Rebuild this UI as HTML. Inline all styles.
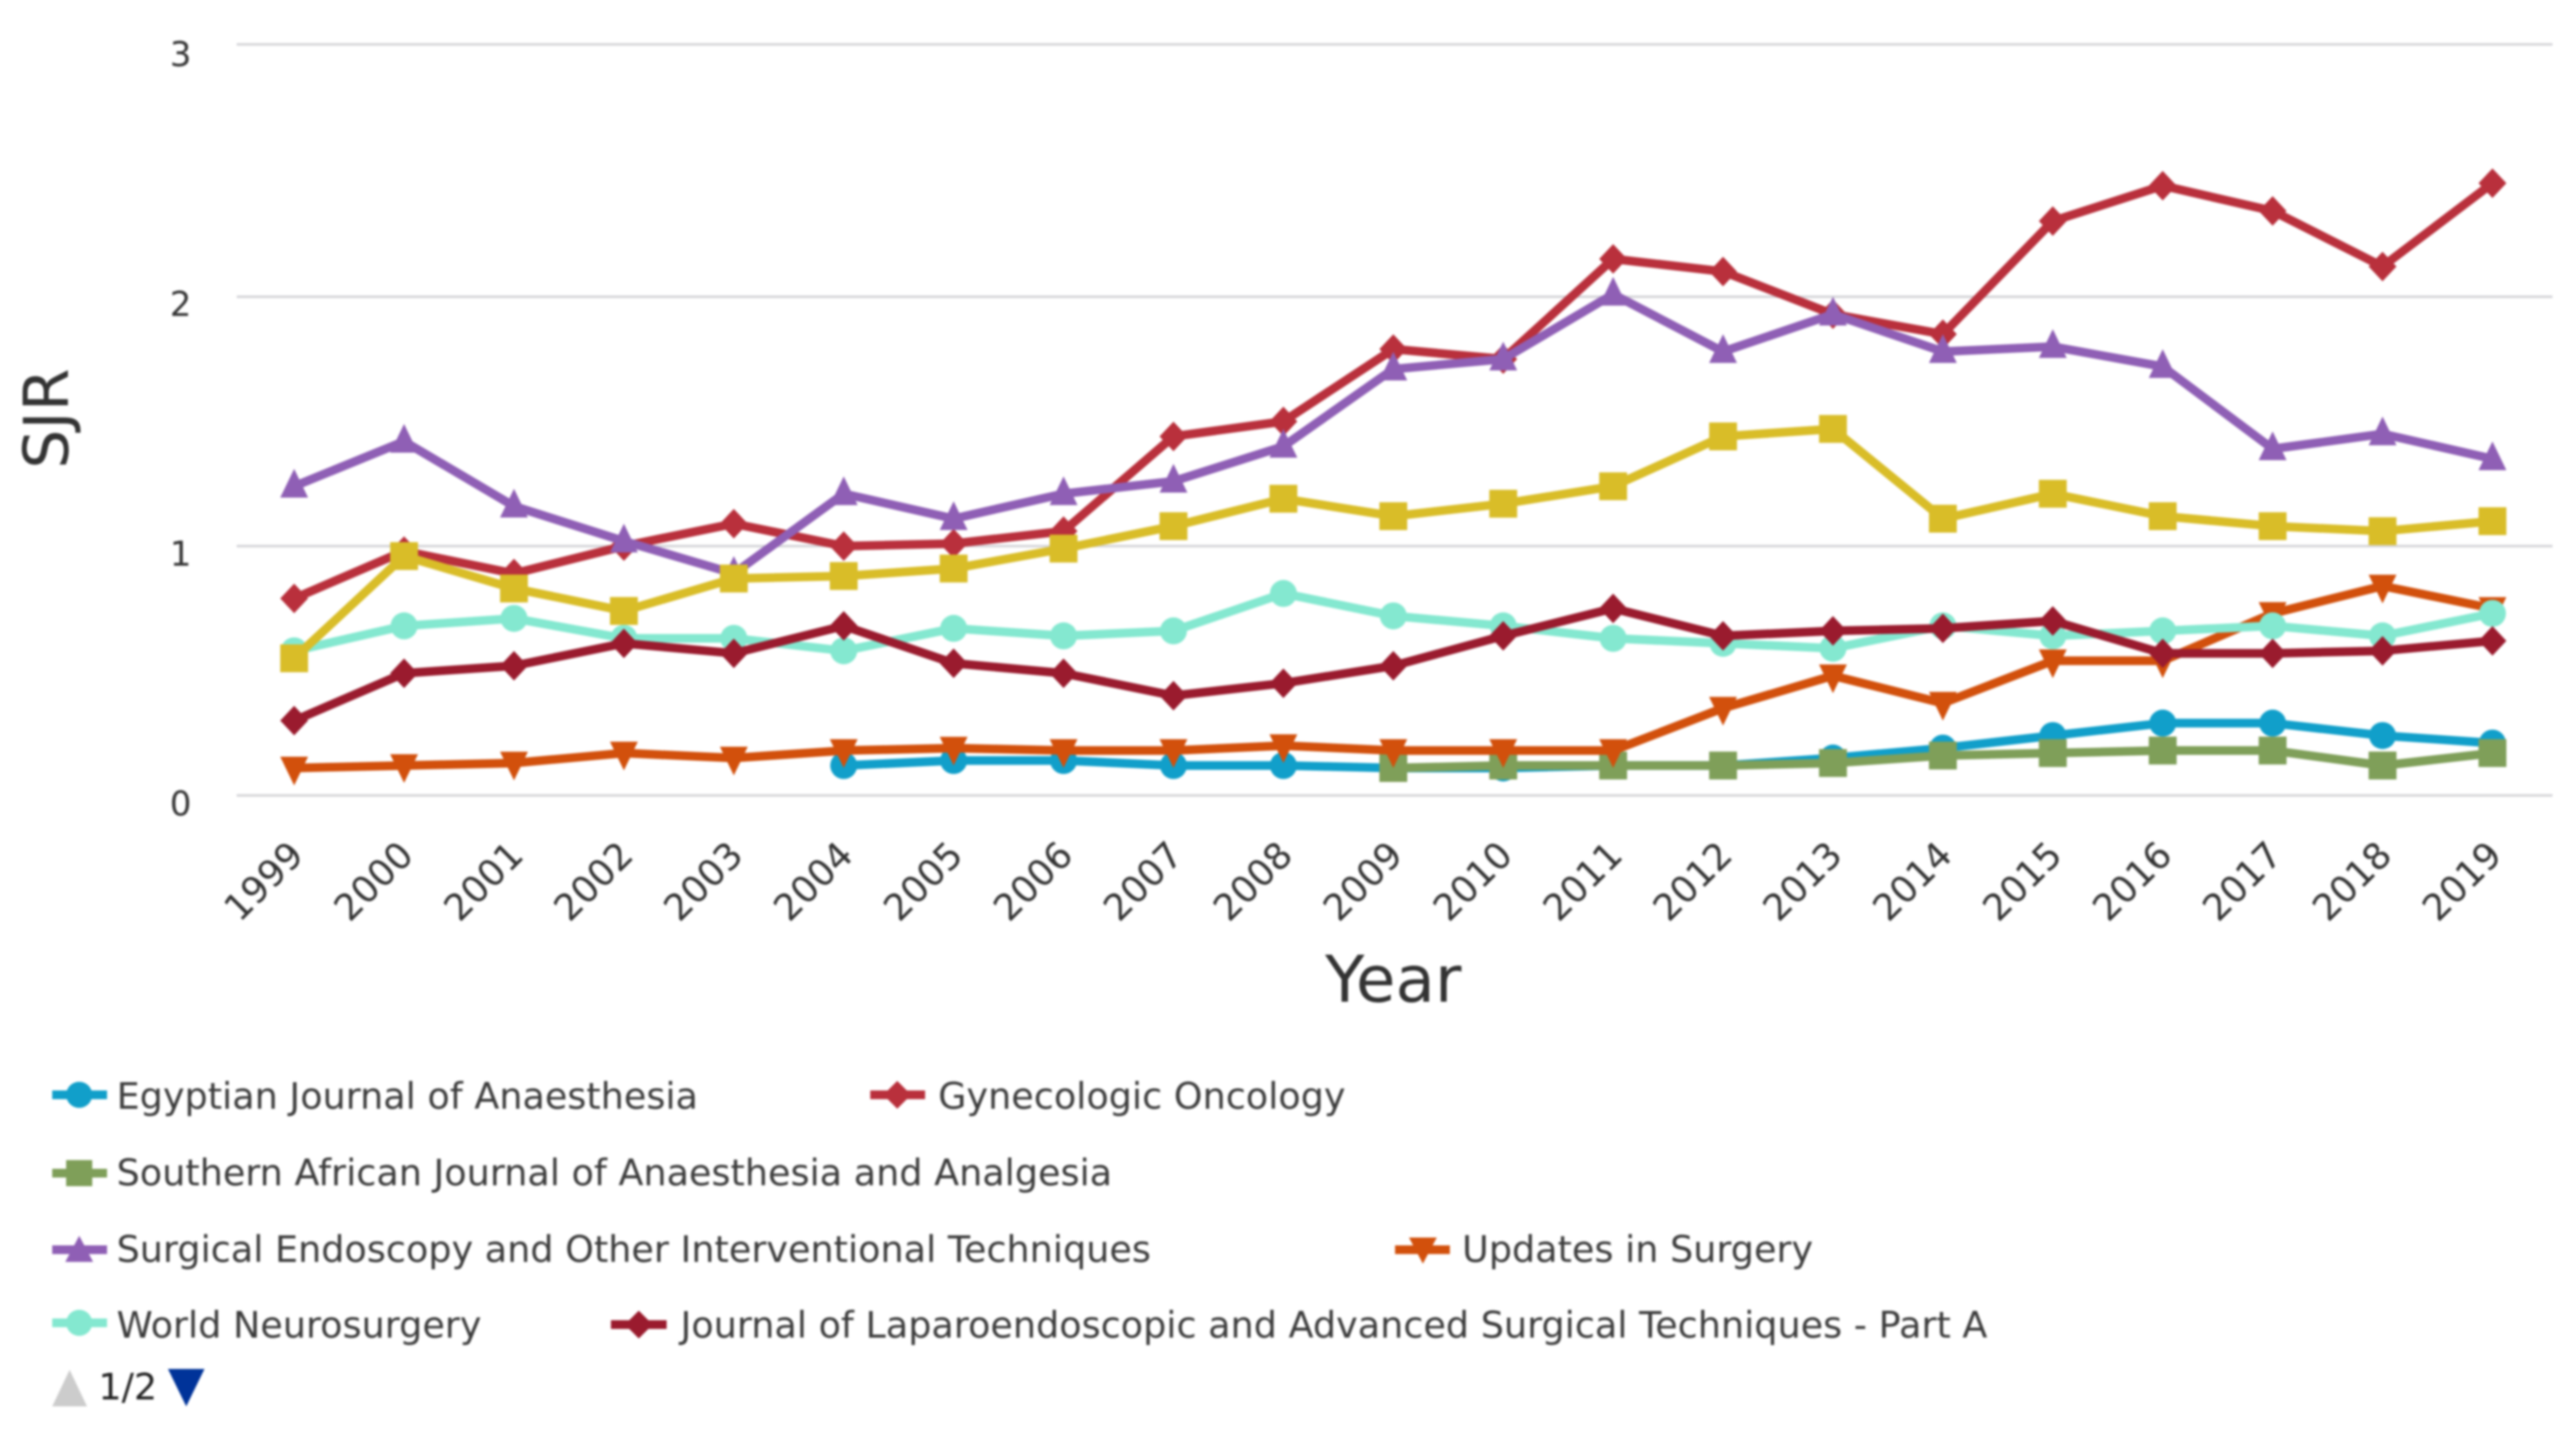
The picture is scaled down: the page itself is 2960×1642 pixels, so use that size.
<!DOCTYPE html>
<html lang="en">
<head>
<meta charset="utf-8">
<title>SJR by Year</title>
<style>
html,body{margin:0;padding:0;background:#fff;}
#chart{display:block;width:2960px;height:1642px;filter:blur(1.2px);font-family:"DejaVu Sans",sans-serif;}
.legend-label{font-size:42px;fill:#3c3c3c;}
</style>
</head>
<body>
<svg id="chart" xmlns="http://www.w3.org/2000/svg" width="2960" height="1642" viewBox="0 0 2960 1642">
  <rect x="0" y="0" width="2960" height="1642" fill="#fff"/>
  <g id="grid"></g>
  <g id="y-ticks"></g>
  <g id="x-ticks"></g>
  <text transform="translate(78,481) rotate(-90)" text-anchor="middle" font-size="71" fill="#333">SJR</text>
  <text x="1601" y="1151" text-anchor="middle" font-size="74" fill="#333">Year</text>
  <g id="series-layer"></g>

  <g>
    <g>
      <line x1="60" y1="1258" x2="123" y2="1258" stroke="#119fca" stroke-width="10"/>
      <circle cx="91" cy="1258" r="15" fill="#119fca"/>
      <text class="legend-label" x="134" y="1274">Egyptian Journal of Anaesthesia</text>
    </g>
    <g>
      <line x1="1000" y1="1258" x2="1063" y2="1258" stroke="#b9303c" stroke-width="10"/>
      <polygon points="1031,1242 1047,1258 1031,1274 1015,1258" fill="#b9303c"/>
      <text class="legend-label" x="1078" y="1274">Gynecologic Oncology</text>
    </g>
    <g>
      <line x1="60" y1="1348" x2="123" y2="1348" stroke="#7f9f59" stroke-width="10"/>
      <rect x="76" y="1333" width="30" height="30" fill="#7f9f59"/>
      <text class="legend-label" x="134" y="1362">Southern African Journal of Anaesthesia and Analgesia</text>
    </g>
    <g>
      <line x1="60" y1="1436" x2="123" y2="1436" stroke="#8f5fb5" stroke-width="10"/>
      <polygon points="91,1420 107,1450 75,1450" fill="#8f5fb5"/>
      <text class="legend-label" x="134" y="1450">Surgical Endoscopy and Other Interventional Techniques</text>
    </g>
    <g>
      <line x1="1603" y1="1436" x2="1666" y2="1436" stroke="#d2500c" stroke-width="10"/>
      <polygon points="1619,1422 1651,1422 1635,1452" fill="#d2500c"/>
      <text class="legend-label" x="1680" y="1450">Updates in Surgery</text>
    </g>
    <g>
      <line x1="60" y1="1520" x2="123" y2="1520" stroke="#84e8d0" stroke-width="10"/>
      <circle cx="91" cy="1520" r="15" fill="#84e8d0"/>
      <text class="legend-label" x="134" y="1537">World Neurosurgery</text>
    </g>
    <g>
      <line x1="702" y1="1522" x2="766" y2="1522" stroke="#9a1b2e" stroke-width="10"/>
      <polygon points="734,1506 750,1522 734,1538 718,1522" fill="#9a1b2e"/>
      <text class="legend-label" x="782" y="1537">Journal of Laparoendoscopic and Advanced Surgical Techniques - Part A</text>
    </g>
    <polygon points="80,1574 100,1616 60,1616" fill="#cccccc"/>
    <text x="113" y="1608" font-size="42" fill="#222">1/2</text>
    <polygon points="193,1573 235,1573 214,1616" fill="#003399"/>
  </g>
</svg>
<script>
const years = ["1999","2000","2001","2002","2003","2004","2005","2006","2007","2008","2009","2010","2011","2012","2013","2014","2015","2016","2017","2018","2019"];
const yTickLabels = [0, 1, 2, 3];

const egyptianValues = [null,null,null,null,null,0.12,0.14,0.14,0.12,0.12,0.11,0.11,0.12,0.12,0.15,0.19,0.24,0.29,0.29,0.24,0.21];
const gynecologicValues = [0.79,0.98,0.89,1.00,1.09,1.00,1.01,1.06,1.44,1.50,1.79,1.75,2.15,2.10,1.93,1.85,2.30,2.44,2.34,2.12,2.45];
const southernAfricanValues = [null,null,null,null,null,null,null,null,null,null,0.11,0.12,0.12,0.12,0.13,0.16,0.17,0.18,0.18,0.12,0.17];
const surgicalEndoscopyValues = [1.24,1.42,1.16,1.02,0.89,1.21,1.11,1.21,1.26,1.40,1.71,1.75,2.01,1.78,1.93,1.78,1.80,1.72,1.39,1.45,1.35];
const updatesInSurgeryValues = [0.11,0.12,0.13,0.17,0.15,0.18,0.19,0.18,0.18,0.20,0.18,0.18,0.18,0.35,0.48,0.37,0.54,0.54,0.73,0.84,0.75];
const worldNeurosurgeryValues = [0.58,0.68,0.71,0.63,0.63,0.58,0.67,0.64,0.66,0.81,0.72,0.68,0.63,0.61,0.59,0.68,0.64,0.66,0.68,0.64,0.73];
const laparoendoscopicValues = [0.30,0.49,0.52,0.61,0.57,0.68,0.53,0.49,0.40,0.45,0.52,0.64,0.75,0.64,0.66,0.67,0.70,0.57,0.57,0.58,0.62];
const hiddenLegendSeriesValues = [0.55,0.96,0.83,0.74,0.87,0.88,0.91,0.99,1.08,1.19,1.12,1.17,1.24,1.44,1.47,1.11,1.21,1.12,1.08,1.06,1.10];

const NS = "http://www.w3.org/2000/svg";
const xScale = function (i) { return 338 + i * (2864 - 338) / (years.length - 1); };
const yScale = function (v) {
  if (v <= 2) { return 914 - v * 286.5; }
  return 341 - (v - 2) * 290;
};
const yLabelPos = function (t) { return 937 - t * 287; };

function make(tag, attrs, parent) {
  const el = document.createElementNS(NS, tag);
  Object.keys(attrs).forEach(function (k) { el.setAttribute(k, attrs[k]); });
  parent.appendChild(el);
  return el;
}

const gridLayer = document.getElementById("grid");
const yTickLayer = document.getElementById("y-ticks");
const xTickLayer = document.getElementById("x-ticks");
const seriesLayer = document.getElementById("series-layer");

yTickLabels.forEach(function (t) {
  const line = make("line", {x1: 272, x2: 2933, y1: yScale(t), y2: yScale(t), stroke: "#d6d6da", "stroke-width": 3}, gridLayer);
  
  
  const label = make("text", {x: 220, y: yLabelPos(t), "text-anchor": "end", "font-size": 39, fill: "#333"}, yTickLayer);
  label.textContent = String(t);
  
  
});

years.forEach(function (yr, i) {
  const px = xScale(i) + 13;
  const label = make("text", {transform: "translate(" + px + ",985) rotate(-45)", "text-anchor": "end", "font-size": 42, fill: "#333"}, xTickLayer);
  label.textContent = yr;
  
  
});

function drawMarker(shape, x, y, color, parent) {
  let m;
  if (shape === "circle") {
    m = make("circle", {cx: x, cy: y, r: 15.5, fill: color}, parent);
  } else if (shape === "diamond") {
    m = make("polygon", {points: [x, y - 17, x + 16, y, x, y + 17, x - 16, y].join(" "), fill: color}, parent);
  } else if (shape === "square") {
    m = make("rect", {x: x - 16, y: y - 16, width: 32, height: 32, fill: color}, parent);
  } else if (shape === "up") {
    m = make("polygon", {points: [x, y - 20, x + 16, y + 13, x - 16, y + 13].join(" "), fill: color}, parent);
  } else {
    m = make("polygon", {points: [x - 16, y - 13, x + 16, y - 13, x, y + 20].join(" "), fill: color}, parent);
  }
  return m;
}

function drawSeries(values, name, color, shape) {
  const group = make("g", {}, seriesLayer);
  
  
  const pts = [];
  values.forEach(function (v, i) {
    if (v !== null) { pts.push(xScale(i) + "," + yScale(v)); }
  });
  const path = make("polyline", {points: pts.join(" "), fill: "none", stroke: color, "stroke-width": 10, "stroke-linejoin": "round"}, group);
  
  
  values.forEach(function (v, i) {
    if (v === null) { return; }
    const marker = drawMarker(shape, xScale(i), yScale(v), color, group);
    
    
  });
}

drawSeries(egyptianValues, "series-egyptian-journal", "#119fca", "circle");
drawSeries(gynecologicValues, "series-gynecologic-oncology", "#b9303c", "diamond");
drawSeries(southernAfricanValues, "series-southern-african-journal", "#7f9f59", "square");
drawSeries(surgicalEndoscopyValues, "series-surgical-endoscopy", "#8f5fb5", "up");
drawSeries(updatesInSurgeryValues, "series-updates-in-surgery", "#d2500c", "down");
drawSeries(worldNeurosurgeryValues, "series-world-neurosurgery", "#84e8d0", "circle");
drawSeries(laparoendoscopicValues, "series-laparoendoscopic", "#9a1b2e", "diamond");
drawSeries(hiddenLegendSeriesValues, "series-yellow-journal", "#d9bd28", "square");
</script>
</body>
</html>
